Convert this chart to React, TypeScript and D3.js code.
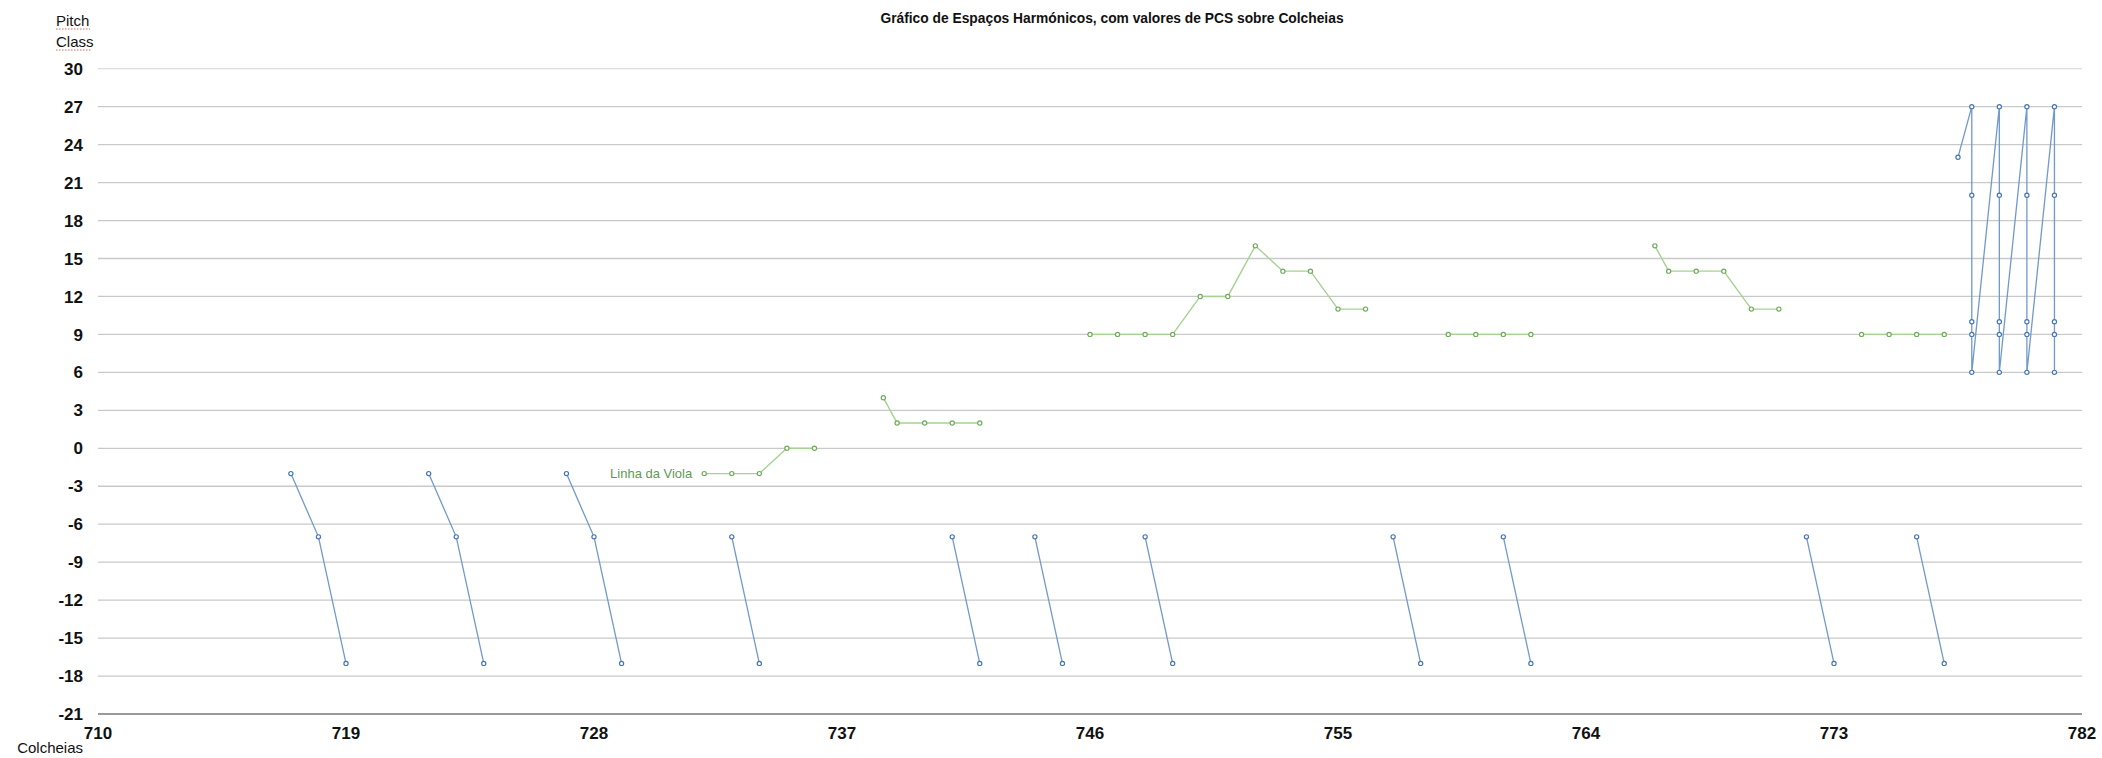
import React from "react";
import * as d3 from "d3";

const W = 2102;
const H = 758;

const TITLE = "Gráfico de Espaços Harmónicos, com valores de PCS sobre Colcheias";
const Y_TITLE = ["Pitch", "Class"];
const X_TITLE = "Colcheias";
const GREEN_LABEL = "Linha da Viola";

const xTicks = [710, 719, 728, 737, 746, 755, 764, 773, 782];
const yTicks = [30, 27, 24, 21, 18, 15, 12, 9, 6, 3, 0, -3, -6, -9, -12, -15, -18, -21];

type P = [number, number];

// Blue series, split into separate connected segments
const blueSegments: P[][] = [
  [[717, -2], [718, -7], [719, -17]],
  [[722, -2], [723, -7], [724, -17]],
  [[727, -2], [728, -7], [729, -17]],
  [[733, -7], [734, -17]],
  [[741, -7], [742, -17]],
  [[744, -7], [745, -17]],
  [[748, -7], [749, -17]],
  [[757, -7], [758, -17]],
  [[761, -7], [762, -17]],
  [[772, -7], [773, -17]],
  [[776, -7], [777, -17]],
  [
    [777.5, 23],
    [778, 27], [778, 20], [778, 10], [778, 9], [778, 6],
    [779, 27], [779, 20], [779, 10], [779, 9], [779, 6],
    [780, 27], [780, 20], [780, 10], [780, 9], [780, 6],
    [781, 27], [781, 20], [781, 10], [781, 9], [781, 6],
  ],
];

// Green series (Linha da Viola)
const greenSegments: P[][] = [
  [[732, -2], [733, -2], [734, -2], [735, 0], [736, 0]],
  [[738.5, 4], [739, 2], [740, 2], [741, 2], [742, 2]],
  [[746, 9], [747, 9], [748, 9], [749, 9], [750, 12], [751, 12], [752, 16], [753, 14], [754, 14], [755, 11], [756, 11]],
  [[759, 9], [760, 9], [761, 9], [762, 9]],
  [[766.5, 16], [767, 14], [768, 14], [769, 14], [770, 11], [771, 11]],
  [[774, 9], [775, 9], [776, 9], [777, 9]],
];

const LEFT = 98;
const RIGHT = 2082;
const TOP = 68.7;
const BOTTOM = 714;

export default function App() {
  const x = d3.scaleLinear().domain([710, 782]).range([LEFT, RIGHT]);
  const y = d3.scaleLinear().domain([-21, 30]).range([BOTTOM, TOP]);
  const line = d3
    .line<P>()
    .x((d) => x(d[0]))
    .y((d) => y(d[1]));

  const font = "'Liberation Sans', Arial, Helvetica, sans-serif";
  const blueLine = "#7199cb";
  const blueMark = "#4676b4";
  const greenLine = "#a6d193";
  const greenMark = "#6fab5c";

  const gFirst = greenSegments[0][0];

  return (
    <svg
      width={W}
      height={H}
      style={{ position: "absolute", left: 0, top: 0, background: "#fff" }}
      fontFamily={font}
    >
      <rect x={0} y={0} width={W} height={H} fill="#fff" />
      {/* grid */}
      {yTicks.map((t) => (
        <line
          key={"g" + t}
          x1={LEFT}
          x2={RIGHT}
          y1={y(t)}
          y2={y(t)}
          stroke={t === -21 ? "#9a9a9a" : t === 30 ? "#dcdcdc" : "#c9c9c9"}
          strokeWidth={t === -21 ? 2 : 1.3}
        />
      ))}
      {/* y tick labels */}
      {yTicks.map((t) => (
        <text
          key={"yl" + t}
          x={83}
          y={y(t)}
          dy="0.36em"
          textAnchor="end"
          fontSize={17}
          fontWeight="bold"
          fill="#111"
        >
          {t}
        </text>
      ))}
      {/* x tick labels */}
      {xTicks.map((t) => (
        <text
          key={"xl" + t}
          x={x(t)}
          y={733}
          dy="0.36em"
          textAnchor="middle"
          fontSize={17}
          fontWeight="bold"
          fill="#111"
        >
          {t}
        </text>
      ))}
      {/* axis titles */}
      <text x={56} y={26} fontSize={15} fill="#111">{Y_TITLE[0]}</text>
      <text x={56} y={47} fontSize={15} fill="#111">{Y_TITLE[1]}</text>
      <line x1={56} x2={90} y1={29} y2={29} stroke="#e06060" strokeWidth={1} strokeDasharray="1.5,1.5" />
      <line x1={56} x2={92} y1={50} y2={50} stroke="#e06060" strokeWidth={1} strokeDasharray="1.5,1.5" />
      <text x={83} y={753} textAnchor="end" fontSize={15} fill="#111">{X_TITLE}</text>
      {/* title */}
      <text x={1112} y={23} textAnchor="middle" fontSize={13.8} fontWeight="bold" fill="#111">
        {TITLE}
      </text>

      {/* green series */}
      {greenSegments.map((seg, i) => (
        <path key={"gs" + i} d={line(seg) || ""} fill="none" stroke={greenLine} strokeWidth={1.4} />
      ))}
      {greenSegments.flat().map((p, i) => (
        <circle key={"gc" + i} cx={x(p[0])} cy={y(p[1])} r={2.1} fill="#fff" stroke={greenMark} strokeWidth={1.2} />
      ))}
      <text
        x={x(gFirst[0]) - 12}
        y={y(gFirst[1])}
        dy="0.36em"
        textAnchor="end"
        fontSize={13}
        fill="#5d9a52"
      >
        {GREEN_LABEL}
      </text>

      {/* blue series */}
      {blueSegments.map((seg, i) => (
        <path key={"bs" + i} d={line(seg) || ""} fill="none" stroke={blueLine} strokeWidth={1.3} />
      ))}
      {blueSegments.flat().map((p, i) => (
        <circle key={"bc" + i} cx={x(p[0])} cy={y(p[1])} r={2.1} fill="#fff" stroke={blueMark} strokeWidth={1.2} />
      ))}
    </svg>
  );
}
